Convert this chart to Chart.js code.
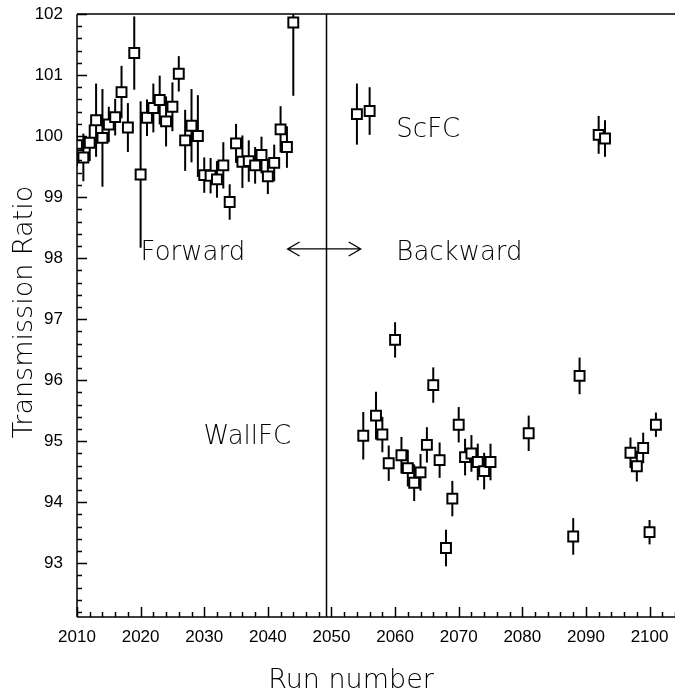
<!DOCTYPE html>
<html>
<head>
<meta charset="utf-8">
<script src="https://cdn.jsdelivr.net/npm/chart.js@4"></script>
<style>
html,body{margin:0;padding:0;background:#fff;}
canvas{display:block;}
</style>
</head>
<body>
<canvas id="c" width="675" height="692"></canvas>
<script>
// ---- data ----
const forwardRuns = [2010,2011,2012,2013,2014,2015,2016,2017,2018,2019,2020,2021,2022,2023,2024,2025,2026,2027,2028,2029,2030,2031,2032,2033,2034,2035,2036,2037,2038,2039,2040,2041,2042,2043,2044];
const forwardVals = [99.85,99.65,99.89,100.26,99.97,100.19,100.31,100.72,100.14,101.36,99.37,100.30,100.46,100.59,100.24,100.48,101.02,99.93,100.17,100.00,99.36,99.35,99.29,99.52,98.92,99.88,99.58,99.59,99.52,99.69,99.34,99.56,100.11,99.82,101.86];
const forwardErrs = [0.35,0.39,0.30,0.60,0.80,0.29,0.30,0.43,0.40,0.60,1.20,0.30,0.40,0.40,0.41,0.40,0.29,0.50,0.60,0.67,0.29,0.29,0.30,0.38,0.29,0.32,0.43,0.34,0.30,0.30,0.29,0.30,0.38,0.34,1.20];

const scfcRuns = [2054,2056,2092,2093];
const scfcVals = [100.36,100.41,100.02,99.96];
const scfcErrs = [0.50,0.39,0.31,0.30];

const wallRuns = [2055,2057,2058,2059,2060,2061,2062,2063,2064,2065,2066,2067,2068,2069,2070,2071,2072,2073,2074,2075,2081,2088,2089,2097,2098,2099,2100,2101];
const wallVals = [95.09,95.42,95.11,94.64,96.66,94.77,94.56,94.32,94.49,94.94,95.92,94.69,93.25,94.06,95.27,94.74,94.80,94.66,94.51,94.66,95.13,93.44,96.07,94.81,94.59,94.89,93.51,95.27];
const wallErrs = [0.39,0.39,0.29,0.29,0.29,0.30,0.30,0.30,0.30,0.29,0.29,0.29,0.30,0.29,0.29,0.30,0.30,0.30,0.30,0.30,0.29,0.30,0.30,0.25,0.25,0.25,0.20,0.20];

const xTickLabels = [2010,2020,2030,2040,2050,2060,2070,2080,2090,2100];
const yTickLabels = [93,94,95,96,97,98,99,100,101,102];
const xRange = [2010, 2104];
const yRange = [92.12, 102];
const dividerRun = 2049.2;

function pts(xs, ys, es){ return xs.map((x,i)=>({x:x, y:ys[i], e:es[i]})); }

const tickFont = {family:"'Liberation Sans', Arial, sans-serif", size:17};
const textFont = "200 26px 'DejaVu Sans ExtraLight', 'DejaVu Sans', sans-serif";
const titleFont = "200 27px 'DejaVu Sans ExtraLight', 'DejaVu Sans', sans-serif";

const markStyle = {
  showLine:false, pointStyle:'rect', pointRadius:7, pointHoverRadius:7,
  pointBorderWidth:2, pointBorderColor:'#000', pointBackgroundColor:'#fff'
};

const errorBars = {
  id:'errorBars',
  beforeDatasetsDraw(chart){
    const {ctx, chartArea:a, scales:{x,y}} = chart;
    ctx.save();
    ctx.beginPath(); ctx.rect(a.left, a.top, a.right-a.left, a.bottom-a.top); ctx.clip();
    ctx.strokeStyle='#000'; ctx.lineWidth=2;
    chart.data.datasets.forEach(ds=>{
      ds.data.forEach(p=>{
        const px = x.getPixelForValue(p.x);
        ctx.beginPath();
        ctx.moveTo(px, y.getPixelForValue(p.y - p.e));
        ctx.lineTo(px, y.getPixelForValue(p.y + p.e));
        ctx.stroke();
      });
    });
    ctx.restore();
  }
};

const frame = {
  id:'frame',
  afterDraw(chart){
    const {ctx, chartArea:a, scales:{x,y}} = chart;
    ctx.save();
    ctx.strokeStyle='#000'; ctx.lineWidth=1.5;
    ctx.beginPath();
    ctx.moveTo(a.left, a.top); ctx.lineTo(a.right, a.top);
    ctx.moveTo(a.left, a.top); ctx.lineTo(a.left, a.bottom);
    ctx.moveTo(a.left, a.bottom); ctx.lineTo(a.right, a.bottom);
    ctx.stroke();
    // inner ticks
    ctx.beginPath();
    for (let v = 2010; v <= xRange[1]; v += 2){
      const px = Math.round(x.getPixelForValue(v)) + 0.5;
      const len = (v % 10 === 0) ? 10 : 5;
      ctx.moveTo(px, a.bottom); ctx.lineTo(px, a.bottom - len);
    }
    for (let k = 461; k <= 510; k++){
      const v = k/5;
      if (v < yRange[0]) continue;
      const py = Math.round(y.getPixelForValue(v)) + 0.5;
      const len = (k % 5 === 0) ? 10 : 5;
      ctx.moveTo(a.left, py); ctx.lineTo(a.left + len, py);
    }
    ctx.stroke();
    // divider line
    const dx = Math.round(x.getPixelForValue(dividerRun)) + 0.5;
    ctx.beginPath(); ctx.moveTo(dx, a.top); ctx.lineTo(dx, a.bottom); ctx.stroke();
    // arrows
    const ay = y.getPixelForValue(98.15);
    const ax1 = x.getPixelForValue(2043.1), ax2 = x.getPixelForValue(2054.6);
    ctx.lineWidth=1.3;
    ctx.beginPath();
    ctx.moveTo(ax1, ay); ctx.lineTo(ax2, ay);
    ctx.moveTo(ax1+12, ay-7); ctx.lineTo(ax1, ay); ctx.lineTo(ax1+12, ay+7);
    ctx.moveTo(ax2-12, ay-7); ctx.lineTo(ax2, ay); ctx.lineTo(ax2-12, ay+7);
    ctx.stroke();
    // annotation texts
    ctx.fillStyle='#000';
    ctx.font = textFont;
    ctx.textAlign='left'; ctx.textBaseline='alphabetic';
    ctx.fillText('Forward', x.getPixelForValue(2020.0), y.getPixelForValue(97.97));
    ctx.fillText('Backward', x.getPixelForValue(2060.2), y.getPixelForValue(97.97));
    ctx.fillText('ScFC', x.getPixelForValue(2060.2), y.getPixelForValue(99.98));
    ctx.fillText('WallFC', x.getPixelForValue(2029.9), y.getPixelForValue(94.95));
    // axis titles
    ctx.font = titleFont;
    ctx.textAlign='center';
    ctx.fillText('Run number', 351, 688);
    ctx.save();
    ctx.translate(31.5, 312);
    ctx.rotate(-Math.PI/2);
    ctx.fillText('Transmission Ratio', 0, 0);
    ctx.restore();
    ctx.restore();
  }
};

new Chart(document.getElementById('c'), {
  type:'scatter',
  data:{
    datasets:[
      Object.assign({label:'Forward', data:pts(forwardRuns, forwardVals, forwardErrs)}, markStyle),
      Object.assign({label:'ScFC', data:pts(scfcRuns, scfcVals, scfcErrs)}, markStyle),
      Object.assign({label:'WallFC', data:pts(wallRuns, wallVals, wallErrs)}, markStyle)
    ]
  },
  options:{
    responsive:false, animation:false, devicePixelRatio:1,
    layout:{autoPadding:false, padding:{left:0, right:0, top:14, bottom:0}},
    plugins:{legend:{display:false}, tooltip:{enabled:false}},
    scales:{
      x:{
        type:'linear', min:xRange[0], max:xRange[1],
        grid:{display:false, drawTicks:false},
        border:{display:false},
        afterFit(s){ s.height = 75; s.paddingLeft = 0; s.paddingRight = 0; },
        afterBuildTicks(s){ s.ticks = xTickLabels.map(v=>({value:v})); },
        ticks:{font:tickFont, color:'#000', padding:10, maxRotation:0, autoSkip:false,
               callback:(v)=>String(v)}
      },
      y:{
        type:'linear', min:yRange[0], max:yRange[1],
        grid:{display:false, drawTicks:false},
        border:{display:false},
        afterFit(s){ s.width = 77; s.paddingTop = 0; s.paddingBottom = 0; },
        afterBuildTicks(s){ s.ticks = yTickLabels.map(v=>({value:v})); },
        ticks:{font:tickFont, color:'#000', padding:14, autoSkip:false,
               callback:(v)=>String(v)}
      }
    }
  },
  plugins:[errorBars, frame]
});
</script>
</body>
</html>
